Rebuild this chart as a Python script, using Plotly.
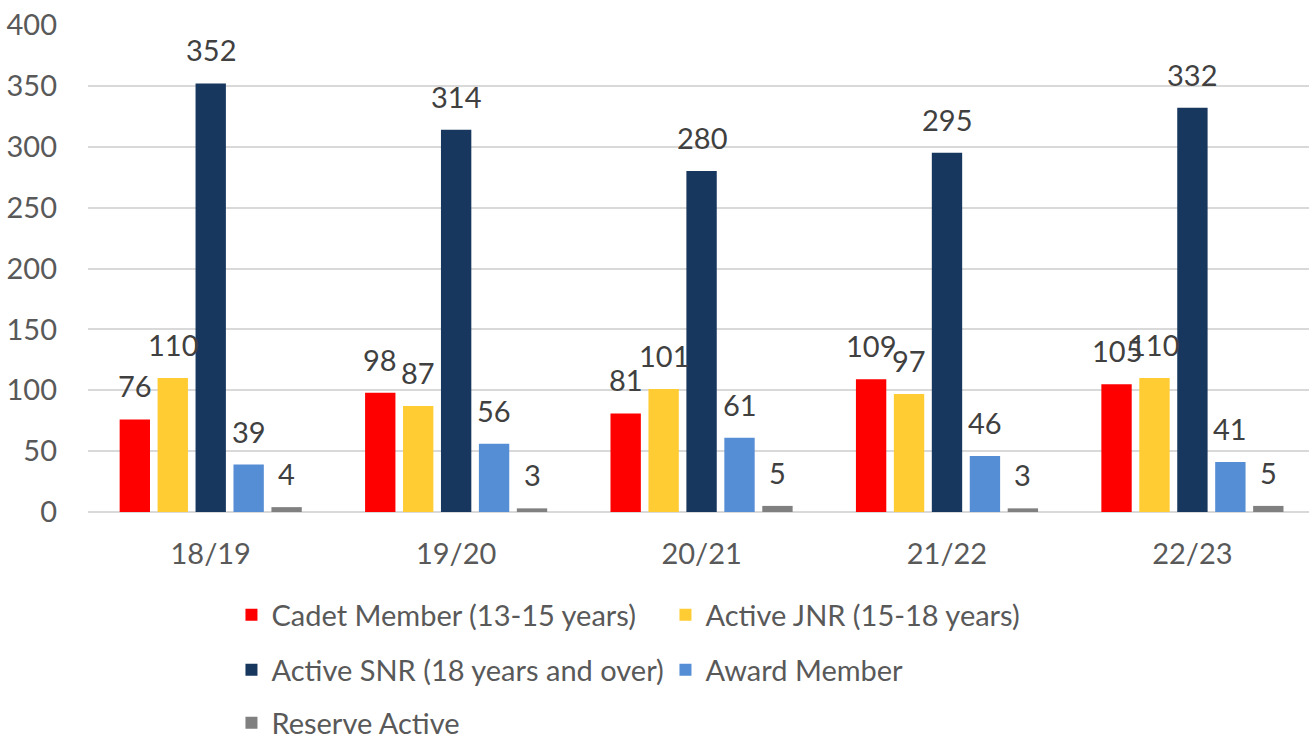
import plotly.graph_objects as go

categories = ["18/19", "19/20", "20/21", "21/22", "22/23"]
series_names = ["Cadet Member (13-15 years)", "Active JNR (15-18 years)",
                "Active SNR (18 years and over)", "Award Member", "Reserve Active"]
cadet = [76, 98, 81, 109, 105]
jnr = [110, 87, 101, 97, 110]
snr = [352, 314, 280, 295, 332]
award = [39, 56, 61, 46, 41]
reserve = [4, 3, 5, 3, 5]
colors = ["#FF0000", "#FFCD33", "#17375E", "#558ED5", "#808080"]
legend_ids = ["legend", "legend", "legend2", "legend2", "legend3"]

all_values = [cadet, jnr, snr, award, reserve]

W, H = 1309, 736
ml, mr, mt, mb = 88, 0, 25, 224
bargap, bargroupgap = 0.227, 0.2
FONT = "Lato"
FS = 29
x_range = [-0.5, len(categories) - 0.525]

fig = go.Figure()
for name, vals, col, lg in zip(series_names, all_values, colors, legend_ids):
    fig.add_trace(go.Bar(name=name, x=categories, y=vals, marker_color=col,
                         marker_line_width=0, legend=lg))

# data labels as annotations, offset to each bar of the group
plot_w = W - ml - mr
cat_w = plot_w / (x_range[1] - x_range[0])
slot = cat_w * (1 - bargap) / len(all_values)
for i, vals in enumerate(all_values):
    shift = (i - (len(all_values) - 1) / 2) * slot
    for c, v in zip(categories, vals):
        fig.add_annotation(x=c, y=v, text=str(v), showarrow=False, xshift=shift,
                           yanchor="bottom", yshift=14,
                           font=dict(family=FONT, size=FS, color="#404040"))

legend_common = dict(orientation="h", xanchor="left", yanchor="middle", x=0.1175,
                     font=dict(family=FONT, size=FS, color="#595959"),
                     entrywidth=389, entrywidthmode="pixels", bgcolor="rgba(0,0,0,0)",
                     itemclick=False)
plot_h = H - mt - mb
def ly(py):
    return -(py - (H - mb)) / plot_h

fig.update_layout(
    width=W, height=H,
    margin=dict(l=ml, r=mr, t=mt, b=mb, autoexpand=False),
    paper_bgcolor="white", plot_bgcolor="white",
    barmode="group", bargap=bargap, bargroupgap=bargroupgap,
    font=dict(family=FONT, color="#595959"),
    legend=dict(y=ly(615), **legend_common),
    legend2=dict(y=ly(670), **legend_common),
    legend3=dict(y=ly(723), **legend_common),
    xaxis=dict(tickfont=dict(family=FONT, size=FS, color="#595959"), showline=False,
               ticks="", showgrid=False, automargin=False, ticklabelstandoff=22,
               range=x_range),
    yaxis=dict(range=[0, 400], dtick=50, tickfont=dict(family=FONT, size=FS, color="#595959"),
               gridcolor="#D9D9D9", gridwidth=2, zeroline=True, zerolinecolor="#D9D9D9",
               zerolinewidth=2, ticks="", ticklabelstandoff=30, automargin=False),
)
fig.write_html("out.html", config={"displayModeBar": False},
               post_script="document.body.style.margin='0';document.body.style.overflow='hidden';")
